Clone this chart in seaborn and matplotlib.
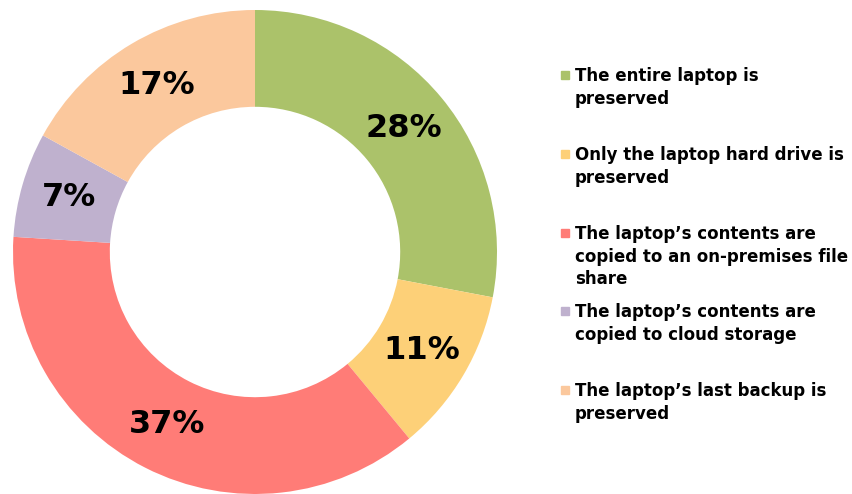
import matplotlib
matplotlib.use("Agg")
import matplotlib.pyplot as plt
import seaborn as sns

# answer categories and shares (percent), clockwise from 12 o'clock
categories = [
    "The entire laptop is\npreserved",
    "Only the laptop hard drive is\npreserved",
    "The laptop\u2019s contents are\ncopied to an on-premises file\nshare",
    "The laptop\u2019s contents are\ncopied to cloud storage",
    "The laptop\u2019s last backup is\npreserved",
]
shares = [28, 11, 37, 7, 17]
colors = ["#abc26a", "#fdd078", "#ff7c77", "#bfb1ce", "#fbc89d"]

sns.set_theme(style="white")
plt.rcParams["font.family"] = ["DejaVu Sans"]

fig = plt.figure(figsize=(8.52, 4.94), dpi=100)
ax = fig.add_axes([13 / 852, 0.0, 484 / 852, 484 / 494])

wedges, texts, autotexts = ax.pie(
    shares, colors=colors, startangle=90, counterclock=False,
    autopct="%.0f%%", pctdistance=0.8,
    wedgeprops=dict(width=0.4, linewidth=0),
    textprops=dict(fontsize=23, fontweight="bold", color="black"),
)
ax.set_xlim(-1, 1)
ax.set_ylim(-1, 1)
ax.set_aspect("equal")
ax.axis("off")

# legend, entries spaced evenly like the original
for i, (label, col) in enumerate(zip(categories, colors)):
    y = 1 - (75 + i * 78.8) / 494
    fig.patches.append(plt.Rectangle((561 / 852, y - 4 / 494), 8 / 852, 8 / 494,
                                     transform=fig.transFigure, color=col))
    fig.text(575 / 852, y + 8 / 494, label, fontsize=12, fontweight="bold",
             color="black", va="top", ha="left", linespacing=1.35)

fig.savefig("out.png", dpi=100)
